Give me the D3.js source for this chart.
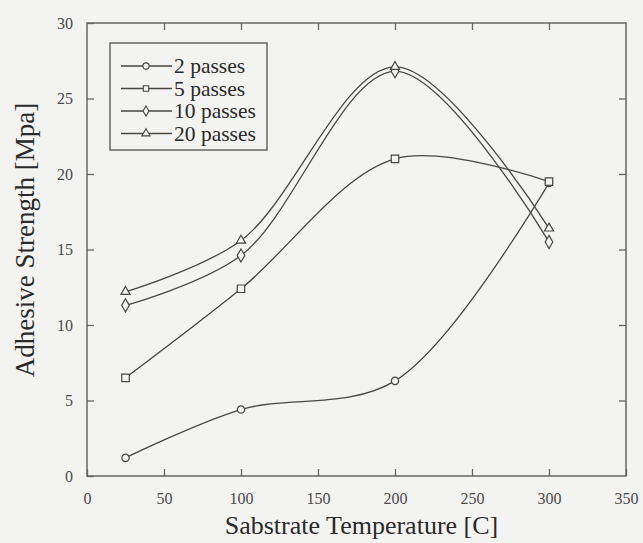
<!DOCTYPE html>
<html>
<head>
<meta charset="utf-8">
<script src="https://cdn.jsdelivr.net/npm/d3@7"></script>
<style>
  body { margin: 0; background: #f3f3f1; }
  svg { display: block; }
  svg text { font-family: "Liberation Serif", "Times New Roman", Times, "DejaVu Serif", serif; fill: #2a2a2a; }
  .tick text { fill: #4a4a4a; font-size: 16px; }
  .tick line { stroke: #666; stroke-width: 1.3; }
</style>
</head>
<body>
<div id="chart"></div>
<script>
// temperatures (x) and strengths for each number of passes
var temps = [25, 100, 200, 300];
var passes2 = [1.2, 4.4, 6.3, 19.4];
var passes5 = [6.5, 12.4, 21.0, 19.5];
var passes10 = [11.3, 14.6, 26.8, 15.5];
var passes20 = [12.2, 15.6, 27.1, 16.4];
var seriesNames = ["2 passes", "5 passes", "10 passes", "20 passes"];
var xTicks = [0, 50, 100, 150, 200, 250, 300, 350];
var yTicks = [0, 5, 10, 15, 20, 25, 30];

var W = 643, H = 543;
var plot = {left: 87, right: 626, top: 23, bottom: 476};
var font = "'Liberation Serif', 'Times New Roman', Times, 'DejaVu Serif', serif";

var series = [passes2, passes5, passes10, passes20].map(function(v, i) {
  return {name: seriesNames[i], values: v.map(function(y, j) { return {t: temps[j], s: y}; })};
});
var symbols = [d3.symbolCircle, d3.symbolSquare, d3.symbolDiamond, d3.symbolTriangle];
var symSizes = [42, 56, 50, 36];

var svg = d3.select("#chart").append("svg")
  .attr("width", W).attr("height", H);

var x = d3.scaleLinear().domain([0, 350]).range([plot.left, plot.right]);
var y = d3.scaleLinear().domain([0, 30]).range([plot.bottom, plot.top]);

// axes, ticks pointing inward on all four sides
svg.append("g")
  .attr("transform", "translate(0," + plot.bottom + ")")
  .call(d3.axisBottom(x).tickValues(xTicks).tickSizeInner(-7).tickSizeOuter(0).tickPadding(17))
  .call(function(g) { g.select(".domain").remove(); });
svg.append("g")
  .attr("transform", "translate(0," + plot.top + ")")
  .call(d3.axisTop(x).tickValues(xTicks.slice(1, -1)).tickSizeInner(-7).tickSizeOuter(0).tickFormat(""))
  .call(function(g) { g.select(".domain").remove(); });
svg.append("g")
  .attr("transform", "translate(" + plot.left + ",0)")
  .call(d3.axisLeft(y).tickValues(yTicks).tickSizeInner(-7).tickSizeOuter(0).tickPadding(14))
  .call(function(g) { g.select(".domain").remove(); });
svg.append("g")
  .attr("transform", "translate(" + plot.right + ",0)")
  .call(d3.axisRight(y).tickValues(yTicks.slice(1, -1)).tickSizeInner(-7).tickSizeOuter(0).tickFormat(""))
  .call(function(g) { g.select(".domain").remove(); });
svg.selectAll(".tick text").attr("font-family", font).style("font-family", font);

// frame
svg.append("rect")
  .attr("x", plot.left).attr("y", plot.top)
  .attr("width", plot.right - plot.left).attr("height", plot.bottom - plot.top)
  .attr("fill", "none").attr("stroke", "#666").attr("stroke-width", 1.5);

// curves
var line = d3.line()
  .curve(d3.curveCatmullRom.alpha(0.5))
  .x(function(d) { return x(d.t); })
  .y(function(d) { return y(d.s); });

svg.append("g").selectAll("path")
  .data(series).enter().append("path")
  .attr("fill", "none")
  .attr("stroke", "#474747")
  .attr("stroke-width", 1.3)
  .attr("d", function(d) { return line(d.values); });

// markers
series.forEach(function(s, i) {
  svg.append("g").selectAll("path")
    .data(s.values).enter().append("path")
    .attr("transform", function(d) { return "translate(" + x(d.t) + "," + y(d.s) + ")"; })
    .attr("d", d3.symbol().type(symbols[i]).size(symSizes[i]))
    .attr("fill", "#f3f3f1")
    .attr("stroke", "#474747")
    .attr("stroke-width", 1.2);
});

// legend
var legend = svg.append("g").attr("transform", "translate(110,43)");
legend.append("rect")
  .attr("width", 157).attr("height", 107)
  .attr("fill", "none").attr("stroke", "#666").attr("stroke-width", 1.5);
var rows = legend.selectAll(".row")
  .data(seriesNames).enter().append("g")
  .attr("class", "row")
  .attr("transform", function(d, i) { return "translate(0," + (23 + i * 22.5) + ")"; });
rows.append("line")
  .attr("x1", 11).attr("x2", 62)
  .attr("stroke", "#474747").attr("stroke-width", 1.3);
rows.append("path")
  .attr("transform", "translate(36,0)")
  .attr("d", function(d, i) { return d3.symbol().type(symbols[i]).size(30)(); })
  .attr("fill", "#f3f3f1").attr("stroke", "#474747").attr("stroke-width", 1.1);
rows.append("text")
  .attr("x", 64).attr("y", 7)
  .style("font-size", "21.5px")
  .text(function(d) { return d; });

// axis titles
svg.append("text")
  .attr("x", (plot.left + plot.right) / 2 + 5).attr("y", 534)
  .attr("text-anchor", "middle")
  .style("font-size", "26px")
  .text("Sabstrate Temperature [C]");
svg.append("text")
  .attr("transform", "translate(34,240) rotate(-90)")
  .attr("text-anchor", "middle")
  .style("font-size", "27px")
  .text("Adhesive Strength [Mpa]");
</script>
</body>
</html>
